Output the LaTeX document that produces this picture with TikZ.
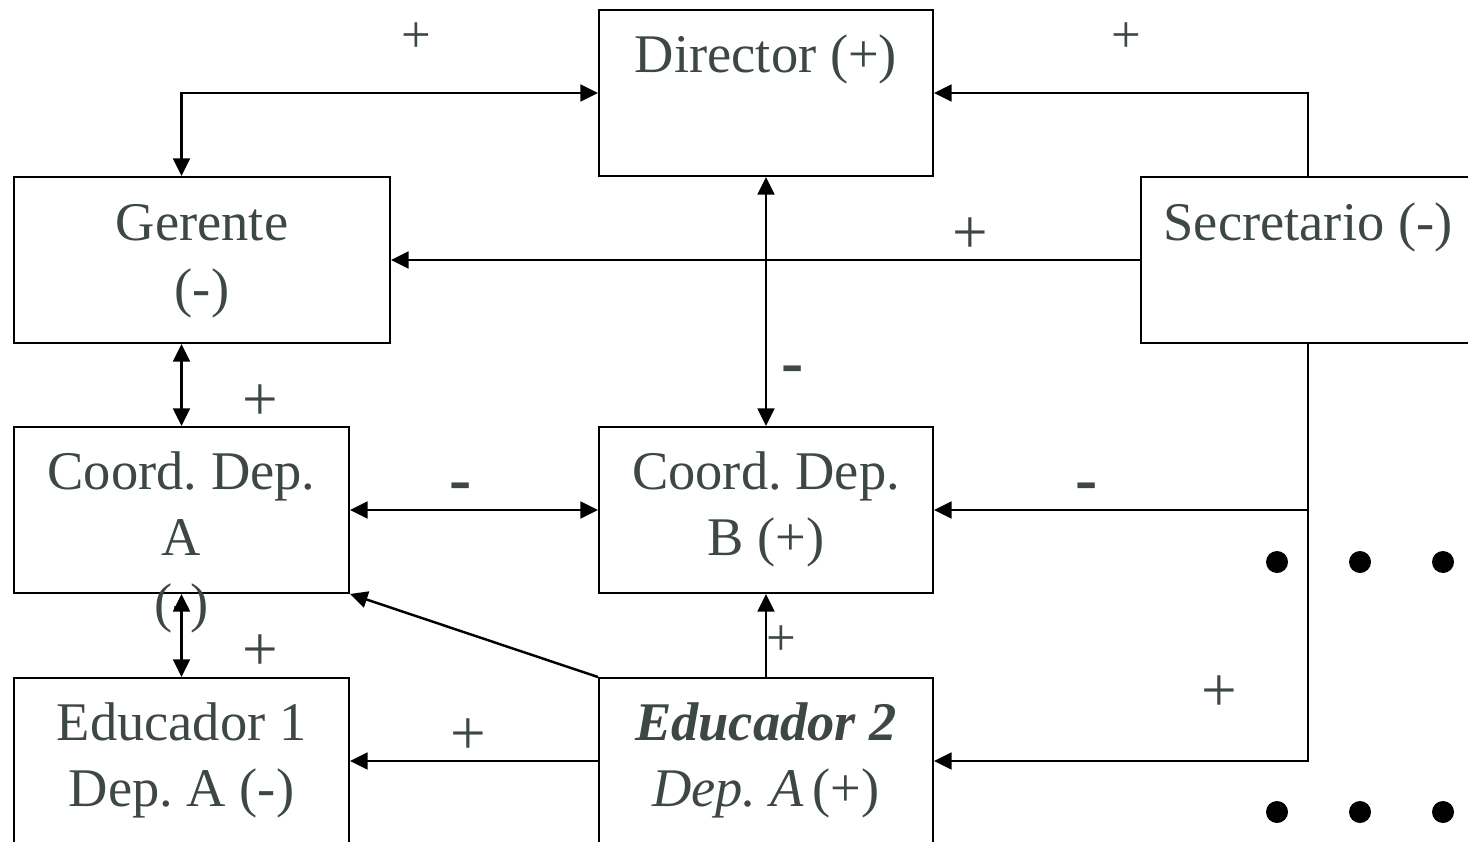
\documentclass[tikz,border=0pt]{standalone}
\usepackage{fontspec}
\setmainfont{Liberation Serif}
\usetikzlibrary{arrows.meta}
\definecolor{labelGray}{RGB}{61,72,67}

\begin{document}
\begin{tikzpicture}
[x=0.02cm,y=-0.02cm,
  boxDecorate/.style={shape=rectangle,draw,line width=1.1pt,minimum height=3.32cm,inner sep=0pt},%
  textDecorate/.style={text=labelGray,font=\fontsize{31}{37.4}\selectfont\frenchspacing,align=center,inner sep=0pt,anchor=base},%
  signBig/.style={text=labelGray,font=\fontsize{36}{40}\selectfont,inner sep=0pt},%
  signSmall/.style={text=labelGray,font=\fontsize{30}{36}\selectfont,inner sep=0pt},%
  signMinus/.style={text=labelGray,font=\fontsize{38}{40}\selectfont\bfseries,inner sep=0pt},%
  lineDecorate/.style={line width=1.4pt,-{Triangle[length=10pt,width=9.5pt]}},%
  bothDecorate/.style={line width=1.4pt,{Triangle[length=10pt,width=9.5pt]}-{Triangle[length=10pt,width=9.5pt]}},%
  dotDecorate/.style={shape=circle,fill,inner sep=0pt,minimum size=0.44cm}]
\clip (0,0) rectangle (1468,842);
%% boxes
\foreach \nodename/\x/\y/\w in {
  director/766/93/334, gerente/202/260/376, secretario/1308/260/334,
  coorda/181.5/510/335, coordb/766/510/334,
  educ1/181.5/761/335, educ2/766/761/334}
{
  \node (\nodename) at (\x,\y) [boxDecorate,minimum width=\w*0.02cm] {};
}
%% texts in the boxes (base = last line)
\foreach \nodename/\x/\y/\txt in {
  director-txt/766/72/{Director (+)},
  gerente-txt/202/306/{Gerente\\(-)},
  secretario-txt/1308/240/{Secretario (-)},
  coorda-txt/181.5/621/{Coord. Dep.\\A\\(-)},
  coordb-txt/766/555/{Coord. Dep.\\B (+)},
  educ1-txt/181.5/806/{Educador 1\\Dep. A (-)},
  educ2-txt/766/806/{\textbf{\textit{Educador 2}}\\\textit{Dep. A}\,(+)}}
{
  \node (\nodename) at (\x,\y) [textDecorate] {\txt};
}
%% connectors
\draw[bothDecorate] (director.west) -| (gerente.north -| coorda.north);
\draw[lineDecorate] (secretario.north) |- (director.east);
\draw[lineDecorate] (secretario.west) -- (gerente.east);
\draw[bothDecorate] (director.south) -- (coordb.north);
\draw[bothDecorate] (gerente.south -| coorda.north) -- (coorda.north);
\draw[bothDecorate] (coorda.east) -- (coordb.west);
\draw[lineDecorate] (secretario.south) |- (coordb.east);
\draw[lineDecorate] (secretario.south) |- (educ2.east);
\draw[bothDecorate] (coorda.south) -- (educ1.north);
\draw[lineDecorate] (educ2.north west) -- (coorda.south east);
\draw[lineDecorate] (educ2.north) -- (coordb.south);
\draw[lineDecorate] (educ2.west) -- (educ1.east);
%% signs
\foreach \signname/\x/\y in {s1/416/38, s2/1126/38, s3/781/641}
  \node (\signname) at (\x,\y) [signSmall] {+};
\foreach \signname/\x/\y in {p1/970/236, p2/260/403, p3/260/653, p4/468/737, p5/1219/694}
  \node (\signname) at (\x,\y) [signBig] {+};
\foreach \signname/\x/\y in {m1/793/375, m2/461/492, m3/1087/492}
  \node (\signname) at (\x,\y) [signMinus] {-};
%% dots
\foreach \i/\x/\y in {1/1277/562, 2/1360/562, 3/1443/562, 4/1277/812, 5/1360/812, 6/1443/812}
  \node (dot\i) at (\x,\y) [dotDecorate] {};
\end{tikzpicture}
\end{document}
